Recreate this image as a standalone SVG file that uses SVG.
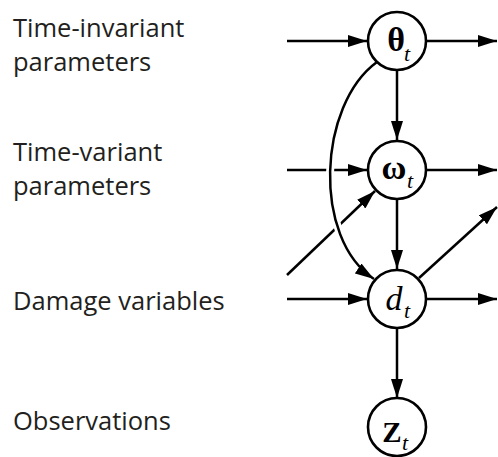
<svg xmlns="http://www.w3.org/2000/svg" width="498" height="457" viewBox="0 0 498 457">
<defs>
<style>
.lbl{font-family:"Open Sans","Noto Sans",sans-serif;font-size:25.5px;fill:#231f20}
.edge{stroke:#000;stroke-width:2.5;fill:none}
.halo{stroke:#fff;stroke-width:8;fill:none}
.node circle{fill:#fff;stroke:#000;stroke-width:2.6}
.sym{font-family:"Liberation Serif","Times New Roman",serif;font-size:34px;fill:#000;text-anchor:middle}
.b{font-weight:bold}
.i{font-style:italic}
.sub{font-family:"Liberation Serif","Times New Roman",serif;font-size:22px;font-style:italic;fill:#000}
</style>
<marker id="ah" markerUnits="userSpaceOnUse" markerWidth="19" markerHeight="12" refX="19" refY="6" orient="auto" viewBox="0 0 19 12">
<path d="M0,0 L19,6 L0,12 z" fill="#000"/>
</marker>
</defs>
<g id="labels">
<text class="lbl" x="13" y="37">Time-invariant</text>
<text class="lbl" x="13" y="71">parameters</text>
<text class="lbl" x="13" y="161">Time-variant</text>
<text class="lbl" x="13" y="195">parameters</text>
<text class="lbl" x="13" y="310">Damage variables</text>
<text class="lbl" x="13" y="430">Observations</text>
</g>
<g id="connectors">
<line class="edge" x1="287" y1="41" x2="367" y2="41" marker-end="url(#ah)"/>
<line class="edge" x1="427" y1="41" x2="497" y2="41" marker-end="url(#ah)"/>
<line class="edge" x1="287" y1="170" x2="367" y2="170" marker-end="url(#ah)"/>
<line class="edge" x1="427" y1="170" x2="497" y2="170" marker-end="url(#ah)"/>
<line class="edge" x1="287" y1="299" x2="367" y2="299" marker-end="url(#ah)"/>
<line class="edge" x1="427" y1="299" x2="497" y2="299" marker-end="url(#ah)"/>
<line class="edge" x1="397" y1="71" x2="397" y2="140" marker-end="url(#ah)"/>
<line class="edge" x1="397" y1="200" x2="397" y2="269" marker-end="url(#ah)"/>
<line class="edge" x1="397" y1="329" x2="397" y2="398" marker-end="url(#ah)"/>
<line class="edge" x1="287" y1="275" x2="375" y2="191" marker-end="url(#ah)"/>
<line class="edge" x1="419" y1="278" x2="497" y2="207" marker-end="url(#ah)"/>
<path class="halo" d="M377,62 C318,105 312,238 374,279"/>
<path class="edge" d="M377,62 C318,105 312,238 374,279" marker-end="url(#ah)"/>
</g>
<g id="theta" class="node">
<circle cx="397" cy="41" r="29"/>
<text class="sym b" x="396" y="51">θ</text>
<text class="sub" x="404" y="61">t</text>
</g>
<g id="omega" class="node">
<circle cx="397" cy="170" r="29"/>
<text class="sym b" x="394" y="179">ω</text>
<text class="sub" x="407" y="188">t</text>
</g>
<g id="d" class="node">
<circle cx="397" cy="299" r="29"/>
<text class="sym i" x="394" y="310">d</text>
<text class="sub" x="404" y="318">t</text>
</g>
<g id="z" class="node">
<circle cx="397" cy="427" r="29"/>
<text class="sym b" x="392" y="442" style="font-size:29px">Z</text>
<text class="sub" x="402" y="450">t</text>
</g>
</svg>
